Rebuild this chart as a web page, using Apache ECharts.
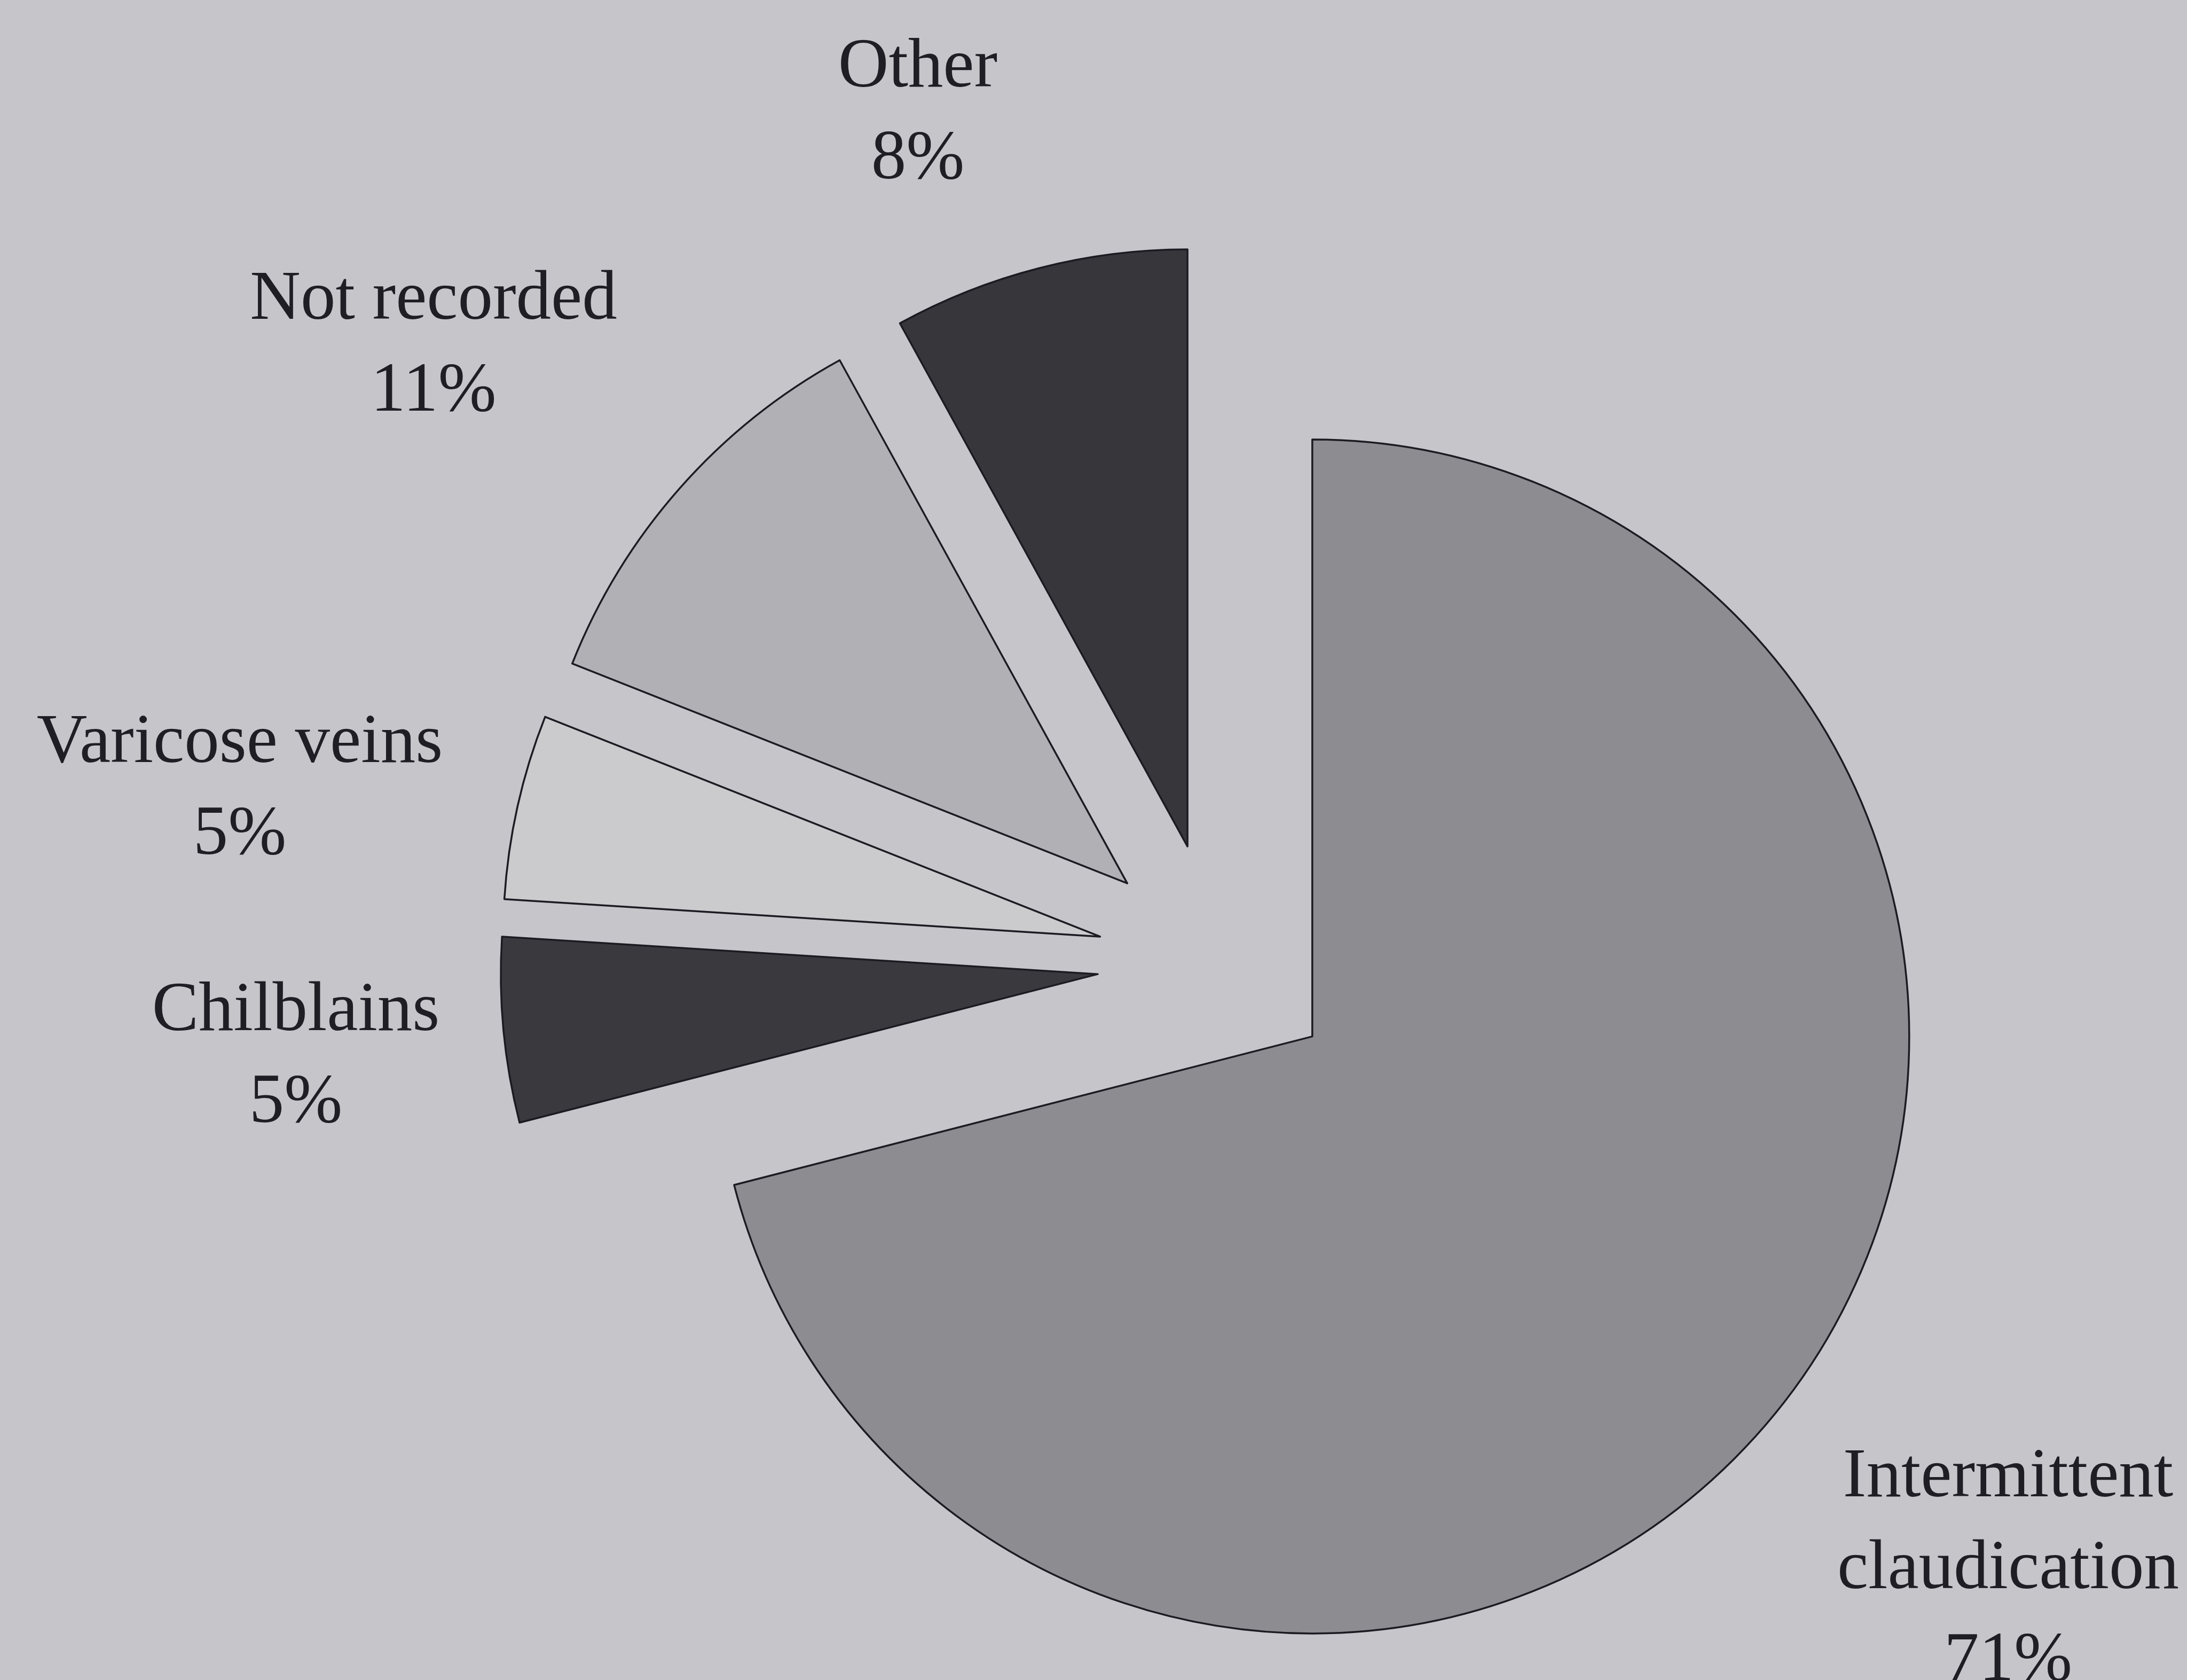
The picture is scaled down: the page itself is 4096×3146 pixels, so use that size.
<!DOCTYPE html>
<html>
<head>
<meta charset="utf-8">
<title>Presenting complaint</title>
<script src="https://cdn.jsdelivr.net/npm/echarts@6/dist/echarts.min.js"></script>
<style>
  html, body { margin: 0; padding: 0; background: #c6c5ca; }
  #chart { width: 4096px; height: 3146px; }
</style>
</head>
<body>
<div id="chart"></div>
<script>
// Categories, clockwise from 12 o'clock
const categories = ['Intermittent\nclaudication', 'Chilblains', 'Varicose veins', 'Not recorded', 'Other'];
// Share of patients (%)
const shares = [71, 5, 5, 11, 8];
// Fill shade for each slice
const sliceColors = ['#8d8d91', '#3a3a3e', '#cbcbce', '#b1b1b5', '#37373b'];

// Label block centres (px) for each slice
const labelCentres = [
  [3761, 2940],
  [554, 1981],
  [449, 1479],
  [812, 649],
  [1719, 214]
];

const chart = echarts.init(document.getElementById('chart'), null, { renderer: 'canvas' });

const labelTexts = categories.map(function (name, i) {
  return {
    type: 'text',
    x: labelCentres[i][0],
    y: labelCentres[i][1],
    silent: true,
    style: {
      text: name + '\n' + shares[i] + '%',
      fontFamily: 'Liberation Serif',
      fontSize: 131,
      lineHeight: 172,
      fill: '#1e1e24',
      align: 'center',
      verticalAlign: 'middle'
    }
  };
});

chart.setOption({
  backgroundColor: '#c6c5ca',
  animation: false,
  graphic: labelTexts,
  series: [{
    type: 'pie',
    center: [2280, 1803],
    radius: [0, 1118],
    startAngle: 90,
    clockwise: true,
    selectedMode: 'multiple',
    selectedOffset: 225,
    avoidLabelOverlap: false,
    emphasis: { disabled: true },
    itemStyle: {
      borderColor: '#1b1b22',
      borderWidth: 3.5
    },
    label: { show: false },
    labelLine: { show: false },
    data: categories.map(function (name, i) {
      return {
        name: name,
        value: shares[i],
        selected: true,
        itemStyle: { color: sliceColors[i] }
      };
    })
  }]
});
</script>
</body>
</html>
